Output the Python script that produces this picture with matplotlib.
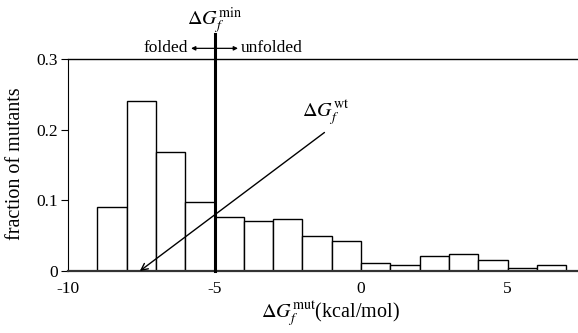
import matplotlib
matplotlib.use("Agg")
import matplotlib.pyplot as plt

plt.rcParams["font.family"] = ["Liberation Serif", "DejaVu Serif"]
plt.rcParams["mathtext.fontset"] = "stix"
plt.rcParams["axes.unicode_minus"] = False

# histogram of mutant stabilities (bin left edges, width 1 kcal/mol)
bin_left = [-9, -8, -7, -6, -5, -4, -3, -2, -1, 0, 1, 2, 3, 4, 5, 6]
fraction = [0.090, 0.240, 0.168, 0.098, 0.076, 0.071, 0.074, 0.050,
            0.042, 0.011, 0.008, 0.021, 0.024, 0.016, 0.005, 0.008]

dg_min = -5.0
dg_wt = -7.55
x_ticks = [-10, -5, 0, 5]
y_ticks = [0, 0.1, 0.2, 0.3]

fig = plt.figure(figsize=(5.78, 3.33), dpi=100)
ax = fig.add_axes([0.1176, 0.186, 0.8824, 0.637])

ax.bar(bin_left, fraction, width=1.0, align="edge",
       facecolor="white", edgecolor="black", linewidth=1.0, zorder=2)

ax.set_xlim(-10, 7.4)
ax.set_ylim(0, 0.3)
ax.set_xticks(x_ticks)
ax.set_xticklabels(["-10", "-5", "0", "5"])
ax.set_yticks(y_ticks)
ax.set_yticklabels(["0", "0.1", "0.2", "0.3"])
ax.tick_params(length=0, labelsize=12.5, pad=7)
ax.tick_params(axis="y", length=5, width=0.8, pad=2)

ax.spines["right"].set_visible(False)
ax.spines["bottom"].set_linewidth(1.6)
ax.spines["bottom"].set_color("#333333")
ax.spines["top"].set_linewidth(1.0)
ax.spines["left"].set_linewidth(0.8)

# threshold line
ax.plot([dg_min, dg_min], [0, 0.335], color="black", linewidth=2.2,
        clip_on=False, zorder=4)
ax.text(dg_min, 0.333, r"$\Delta G_f^{\rm min}$", ha="center", va="bottom",
        fontsize=14.5)
ax.annotate("", xy=(-5.8, 0.315), xytext=(-4.2, 0.315),
            arrowprops=dict(arrowstyle="<|-|>", color="black", lw=0.9,
                            mutation_scale=6, shrinkA=0, shrinkB=0),
            annotation_clip=False)
ax.text(-5.9, 0.315, "folded", ha="right", va="center", fontsize=12.5)
ax.text(-4.1, 0.315, "unfolded", ha="left", va="center", fontsize=12.5)

# wild type arrow
ax.annotate("", xy=(dg_wt, 0.0), xytext=(-1.25, 0.196),
            arrowprops=dict(arrowstyle="->", color="black", lw=1.0,
                            mutation_scale=12, shrinkA=0, shrinkB=0),
            zorder=5)
ax.text(-2.0, 0.203, r"$\Delta G_f^{\rm wt}$", ha="left", va="bottom",
        fontsize=14.5)

ax.set_ylabel("fraction of mutants", fontsize=14.5)
ax.yaxis.set_label_coords(-0.084, 0.505)
ax.set_xlabel(r"$\Delta G_f^{\rm mut}$(kcal/mol)", fontsize=14.5)
ax.xaxis.set_label_coords(0.515, -0.135)
ax.xaxis.label.set_va("top")

fig.savefig("out.png", dpi=100, facecolor="white")
